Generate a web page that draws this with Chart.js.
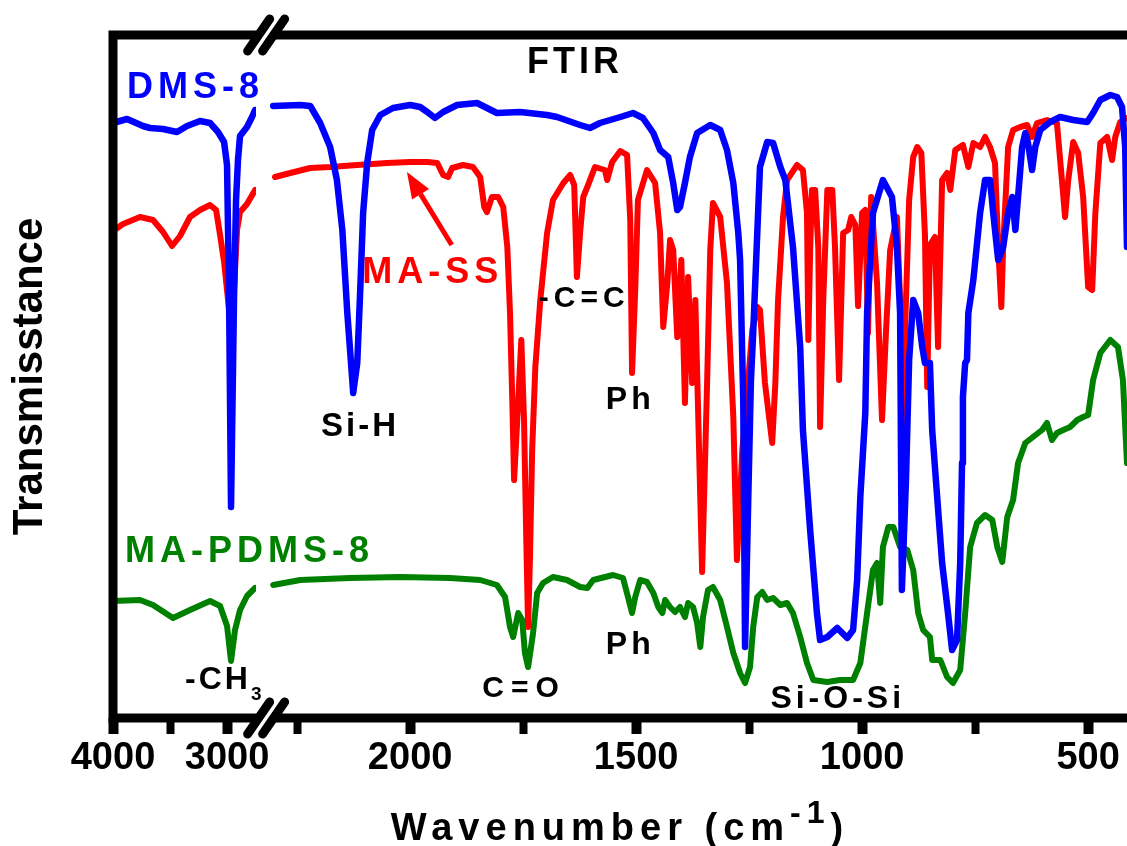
<!DOCTYPE html>
<html>
<head>
<meta charset="utf-8">
<title>FTIR</title>
<script src="https://cdn.jsdelivr.net/npm/chart.js@4.4.0/dist/chart.umd.min.js"></script>
<style>
html, body { margin: 0; padding: 0; background: #fff; }
canvas { display: block; }
</style>
</head>
<body>
<canvas id="chart" width="1127" height="846"></canvas>
<script>
// 刻度（波数 cm-1）
var leftTicks = [4000, 3500, 3000];
var leftLabels = [4000, 3000];
var rightTicks = [2250, 2000, 1750, 1500, 1250, 1000, 750, 500];
var rightLabels = [2000, 1500, 1000, 500];

// DMS-8 光谱
var dmsLeftWave = [4000, 3877, 3737, 3675, 3561, 3439, 3351, 3237, 3149, 3079, 3026, 3000, 2982, 2965, 2939, 2921, 2904, 2886, 2825, 2781, 2754];
var dmsLeftT = [59.5, 59.9, 59.2, 59.0, 58.9, 58.6, 59.2, 59.7, 59.5, 58.6, 57.6, 55.3, 41.8, 21.1, 41.8, 51.8, 55.8, 58.2, 59.1, 60.1, 60.8];
var dmsRightWave = [2303, 2243, 2221, 2199, 2177, 2162, 2150, 2139, 2128, 2126,
    2117, 2111, 2104, 2095, 2084, 2066, 2038, 2000, 1978, 1962,
    1945, 1927, 1896, 1852, 1830, 1808, 1757, 1697, 1675, 1624,
    1602, 1580, 1535, 1507, 1485, 1462, 1447, 1429, 1418, 1409,
    1403, 1392, 1381, 1365, 1336, 1314, 1299, 1285, 1274, 1270,
    1263, 1259, 1252, 1246, 1241, 1232, 1226, 1210, 1197, 1181,
    1170, 1153, 1137, 1131, 1115, 1100, 1093, 1077, 1055, 1033,
    1020, 1011, 1004, 993, 989, 976, 954, 934, 923, 916,
    912, 903, 896, 887, 876, 867, 861, 850, 845, 834,
    823, 810, 801, 790, 783, 779, 777, 772, 768, 765,
    754, 739, 728, 717, 710, 699, 688, 677, 668, 661,
    655, 646, 639, 633, 624, 617, 606, 584, 562, 533,
    502, 489, 473, 451, 436, 425, 418, 414];
var dmsRightT = [61.2, 61.3, 61.2, 59.5, 57.1, 53.8, 48.8, 40.5, 33.8, 32.5,
    35.5, 42.1, 50.5, 55.5, 58.8, 60.3, 61.0, 61.3, 61.1, 60.6,
    60.0, 60.6, 61.3, 61.5, 61.0, 60.5, 60.6, 60.3, 60.1, 59.3,
    59.0, 59.5, 60.1, 60.5, 60.0, 58.5, 56.8, 56.1, 53.5, 50.8,
    51.1, 53.5, 56.1, 58.5, 59.3, 58.8, 56.8, 53.5, 48.5, 45.8,
    31.8, 7.1, 21.8, 33.8, 38.5, 48.5, 55.1, 57.6, 57.5, 55.1,
    53.8, 47.1, 37.1, 28.8, 18.8, 10.5, 7.8, 8.1, 9.0, 8.0,
    8.8, 13.8, 22.1, 30.5, 40.5, 50.5, 53.8, 52.1, 47.1, 40.5,
    12.8, 23.8, 35.8, 41.8, 40.5, 37.1, 35.5, 35.5, 28.8, 22.1,
    15.5, 10.5, 6.8, 7.8, 15.5, 25.5, 32.1, 35.5, 35.8, 40.5,
    43.8, 50.5, 53.8, 53.8, 50.5, 45.8, 47.1, 50.5, 52.1, 48.8,
    52.1, 57.1, 58.5, 57.5, 54.8, 57.1, 58.8, 59.6, 60.1, 59.8,
    59.6, 60.5, 61.8, 62.3, 62.1, 61.1, 57.1, 47.1];

// MA-SS 光谱
var maLeftWave = [4000, 3912, 3763, 3649, 3561, 3482, 3412, 3325, 3237, 3149, 3096, 3061, 3026, 2991, 2965, 2939, 2912, 2886, 2825, 2754];
var maLeftT = [48.7, 49.4, 50.1, 49.8, 48.6, 47.2, 48.2, 50.1, 50.8, 51.3, 50.8, 48.3, 45.6, 41.8, 38.8, 42.8, 48.8, 50.6, 51.4, 52.8];
var maRightWave = [2299, 2265, 2221, 2177, 2117, 2051, 2000, 1962, 1940, 1927,
    1916, 1907, 1883, 1861, 1845, 1836, 1830, 1819, 1805, 1794,
    1785, 1779, 1774, 1770, 1763, 1754, 1748, 1743, 1739, 1735,
    1730, 1723, 1712, 1697, 1684, 1661, 1646, 1637, 1631, 1624,
    1617, 1608, 1591, 1569, 1564, 1553, 1535, 1520, 1513, 1509,
    1502, 1496, 1476, 1458, 1447, 1440, 1431, 1425, 1418, 1409,
    1400, 1392, 1385, 1376, 1369, 1354, 1343, 1336, 1330, 1314,
    1299, 1285, 1277, 1265, 1252, 1243, 1232, 1226, 1215, 1199,
    1192, 1186, 1175, 1166, 1144, 1131, 1122, 1119, 1115, 1111,
    1104, 1097, 1093, 1086, 1077, 1066, 1060, 1051, 1042, 1031,
    1024, 1015, 1009, 1000, 993, 987, 980, 967, 956, 947,
    938, 923, 916, 912, 905, 896, 887, 878, 869, 861,
    856, 850, 839, 832, 823, 812, 805, 794, 777, 765,
    754, 739, 728, 717, 706, 699, 692, 688, 677, 666,
    650, 635, 624, 613, 591, 569, 558, 551, 544, 533,
    522, 511, 500, 491, 484, 473, 458, 447, 440, 429,
    414];
var maRightT = [54.1, 54.5, 55.0, 55.1, 55.3, 55.5, 55.6, 55.6, 55.5, 54.3,
    54.1, 55.0, 55.3, 55.1, 54.1, 51.1, 50.6, 52.1, 52.1, 51.1,
    47.1, 40.5, 31.8, 23.8, 29.8, 37.8, 29.8, 17.8, 9.1, 15.8,
    26.8, 35.1, 41.8, 48.5, 51.8, 53.5, 54.3, 53.3, 44.1, 48.5,
    52.1, 53.1, 55.1, 54.8, 53.8, 55.6, 56.7, 56.3, 49.8, 34.5,
    42.8, 51.8, 54.8, 53.5, 48.5, 39.1, 43.5, 47.8, 46.8, 38.1,
    45.8, 31.5, 44.1, 33.5, 41.8, 14.6, 33.5, 46.8, 51.5, 50.1,
    43.5, 30.1, 15.8, 26.8, 33.8, 38.8, 41.1, 40.8, 33.5, 27.5,
    33.5, 41.8, 50.1, 53.8, 55.3, 54.8, 50.5, 37.8, 46.8, 52.8,
    52.8, 47.1, 29.1, 41.8, 52.8, 52.8, 47.1, 33.8, 48.5, 48.8,
    50.1, 49.3, 41.2, 50.5, 50.8, 38.5, 52.1, 43.5, 29.8, 38.8,
    46.8, 50.1, 41.8, 26.2, 38.8, 51.8, 56.1, 57.1, 56.5, 48.3,
    33.1, 47.3, 48.1, 37.1, 53.8, 54.5, 52.8, 56.8, 57.3, 55.1,
    57.5, 57.1, 58.1, 57.1, 55.5, 47.1, 41.1, 47.1, 57.1, 58.8,
    59.1, 59.3, 58.1, 59.5, 59.8, 59.5, 53.8, 50.1, 53.8, 57.6,
    56.5, 52.1, 43.1, 42.8, 50.5, 57.5, 58.1, 55.8, 58.1, 59.6,
    60.0];

// MA-PDMS-8 光谱
var pdmsLeftWave = [4000, 3763, 3649, 3474, 3325, 3149, 3061, 3000, 2965, 2930, 2886, 2825, 2754];
var pdmsLeftT = [11.7, 11.8, 11.3, 10.0, 10.8, 11.7, 11.2, 9.2, 5.7, 8.8, 10.8, 12.2, 13.0];
var pdmsRightWave = [2303, 2243, 2133, 2022, 1912, 1845, 1808, 1790, 1779, 1772,
    1761, 1752, 1746, 1739, 1728, 1719, 1706, 1684, 1653, 1624,
    1608, 1595, 1551, 1529, 1518, 1509, 1502, 1491, 1476, 1462,
    1451, 1442, 1436, 1425, 1414, 1403, 1392, 1385, 1374, 1365,
    1358, 1352, 1341, 1330, 1314, 1299, 1285, 1270, 1259, 1248,
    1241, 1232, 1221, 1210, 1197, 1181, 1166, 1153, 1137, 1122,
    1108, 1077, 1049, 1020, 1004, 989, 976, 967, 960, 954,
    942, 931, 916, 900, 887, 876, 865, 850, 845, 827,
    812, 799, 783, 772, 761, 746, 728, 712, 701, 690,
    679, 666, 655, 639, 622, 602, 591, 580, 569, 555,
    540, 524, 511, 500, 489, 473, 451, 434, 423, 414];
var pdmsRightT = [13.3, 13.8, 14.0, 14.1, 14.0, 13.8, 13.3, 12.1, 9.1, 8.1,
    10.5, 9.8, 6.5, 5.1, 8.5, 12.5, 13.5, 14.1, 13.8, 13.1,
    13.0, 13.8, 14.3, 14.0, 12.1, 10.5, 12.1, 13.8, 13.6, 12.5,
    11.1, 10.5, 11.8, 11.1, 10.6, 11.1, 10.1, 11.5, 11.1, 9.5,
    7.1, 10.1, 12.8, 13.1, 11.8, 9.1, 6.5, 4.5, 3.5, 5.1,
    9.1, 12.1, 12.6, 11.8, 12.0, 11.3, 11.5, 10.5, 8.1, 5.5,
    3.8, 3.6, 3.8, 3.8, 5.5, 10.5, 14.8, 15.5, 11.5, 17.1,
    19.1, 19.1, 17.1, 16.8, 14.8, 10.5, 8.8, 8.1, 5.8, 5.8,
    4.1, 3.5, 4.8, 10.5, 17.1, 19.5, 20.3, 19.8, 17.1, 15.6,
    20.1, 21.8, 25.5, 27.5, 28.1, 28.8, 29.5, 27.8, 28.5, 28.8,
    29.1, 29.8, 30.1, 30.3, 33.8, 36.5, 37.8, 37.1, 33.8, 25.5];

var FONT = "'Liberation Sans', Arial, Helvetica, sans-serif";
var BLUE = '#0000ff', RED = '#ff0000', GREEN = '#008000';
Chart.defaults.font.family = FONT;

// 标注文字（位置用数据坐标）
var notes = [
    {text: 'FTIR', axis: 'xR', x: 1635, y: 65.5, color: '#000', size: 36, gap: 4, align: 'center'},
    {text: 'DMS-8', axis: 'xL', x: 3877, y: 63.0, color: BLUE, size: 36, gap: 5, align: 'left'},
    {text: 'MA-SS', axis: 'xR', x: 2106, y: 44.5, color: RED, size: 36, gap: 5, align: 'left'},
    {text: 'MA-PDMS-8', axis: 'xL', x: 3895, y: 16.6, color: GREEN, size: 36, gap: 5, align: 'left'},
    {text: 'Si-H', axis: 'xR', x: 2111, y: 29.1, color: '#000', size: 33, gap: 3, align: 'center'},
    {text: '-C=C', axis: 'xR', x: 1615, y: 41.9, color: '#000', size: 30, gap: 5, align: 'center'},
    {text: 'Ph', axis: 'xR', x: 1513, y: 31.8, color: '#000', size: 32, gap: 4, align: 'center'},
    {text: 'Ph', axis: 'xR', x: 1513, y: 7.3, color: '#000', size: 32, gap: 4, align: 'center'},
    {text: 'C=O', axis: 'xR', x: 1748, y: 2.9, color: '#000', size: 30, gap: 7, align: 'center'},
    {text: 'Si-O-Si', axis: 'xR', x: 1054, y: 1.9, color: '#000', size: 32, gap: 4, align: 'center'},
    {text: '-CH', sub: '3', axis: 'xL', x: 3368, y: 3.8, color: '#000', size: 32, gap: 3, align: 'left'}
];
var arrow = {from: [1908, 47.3], to: [2007, 54.6]};

function toPoints(wave, vals) {
    var pts = [];
    for (var i = 0; i < wave.length; i++) {
        pts.push({x: wave[i], y: vals[i]});
    }
    return pts;
}

function lineSet(label, wave, vals, axis, color, width) {
    return {
        label: label,
        data: toPoints(wave, vals),
        xAxisID: axis,
        borderColor: color,
        borderWidth: width,
        pointRadius: 0,
        tension: 0,
        fill: false,
        borderJoinStyle: 'round',
        borderCapStyle: 'round'
    };
}

// 断轴：两段横轴叠放在底部
function wnAxis(min, max, weight, ticks, labels) {
    return {
        type: 'linear',
        position: 'bottom',
        stack: 'wn',
        stackWeight: weight,
        min: min,
        max: max,
        reverse: true,
        afterBuildTicks: function (scale) {
            scale.ticks = ticks.map(function (v) { return {value: v}; });
        },
        afterFit: function (scale) {
            scale.height = 128;
            scale.paddingLeft = 0;//不让标签撑开绘图区
            scale.paddingRight = 0;
        },
        border: {display: false},
        grid: {
            drawOnChartArea: false,
            drawTicks: true,
            tickLength: 16,
            tickColor: '#000',
            tickWidth: function (c) { return c.tick && labels.indexOf(c.tick.value) >= 0 ? 10 : 8; }
        },
        ticks: {
            autoSkip: false,
            maxRotation: 0,
            padding: 2,
            color: '#000',
            font: {size: 38, weight: 'bold'},
            callback: function (v) { return labels.indexOf(v) >= 0 ? String(v) : ''; }
        }
    };
}

// 边框与断轴符号
var framePlugin = {
    id: 'frame',
    afterDatasetsDraw: function (chart) {
        var ctx = chart.ctx, a = chart.chartArea;
        var xL = chart.scales.xL, xR = chart.scales.xR;
        var cut = (xL.getPixelForValue(dmsLeftWave[dmsLeftWave.length - 1]) + xR.getPixelForValue(dmsRightWave[0])) / 2 + 2;
        ctx.save();
        ctx.strokeStyle = '#000';
        ctx.lineWidth = 9;
        ctx.lineCap = 'butt';
        ctx.beginPath();
        ctx.moveTo(cut - 7.5, a.top);
        ctx.lineTo(a.left, a.top);
        ctx.lineTo(a.left, a.bottom);
        ctx.lineTo(cut - 7.5, a.bottom);
        ctx.moveTo(cut + 7.5, a.top);
        ctx.lineTo(a.right + 10, a.top);
        ctx.moveTo(cut + 7.5, a.bottom);
        ctx.lineTo(a.right + 10, a.bottom);
        ctx.stroke();
        ctx.lineCap = 'round';
        [a.top, a.bottom].forEach(function (yy) {
            [-7.5, 7.5].forEach(function (dx) {
                ctx.beginPath();
                ctx.moveTo(cut + dx - 11, yy + 16);
                ctx.lineTo(cut + dx + 11, yy - 16);
                ctx.stroke();
            });
        });
        ctx.restore();
    }
};

// 标注、箭头和横轴标题
var notePlugin = {
    id: 'notes',
    afterDraw: function (chart) {
        var ctx = chart.ctx, ys = chart.scales.y;
        ctx.save();
        ctx.textBaseline = 'middle';
        notes.forEach(function (n) {
            var px = chart.scales[n.axis].getPixelForValue(n.x);
            var py = ys.getPixelForValue(n.y);
            ctx.font = 'bold ' + n.size + 'px ' + FONT;
            ctx.letterSpacing = n.gap + 'px';
            ctx.fillStyle = n.color;
            ctx.textAlign = n.align;
            ctx.fillText(n.text, px, py);
            if (n.sub) {
                var w = ctx.measureText(n.text).width;
                ctx.font = 'bold ' + Math.round(n.size * 0.6) + 'px ' + FONT;
                ctx.textAlign = 'left';
                ctx.fillText(n.sub, px + w, py + n.size * 0.45);
            }
        });

        // 箭头
        var xR = chart.scales.xR;
        var tx = xR.getPixelForValue(arrow.to[0]), ty = ys.getPixelForValue(arrow.to[1]);
        var fx = xR.getPixelForValue(arrow.from[0]), fy = ys.getPixelForValue(arrow.from[1]);
        var ang = Math.atan2(ty - fy, tx - fx);
        var bx = tx - 26 * Math.cos(ang), by = ty - 26 * Math.sin(ang);
        ctx.strokeStyle = RED;
        ctx.fillStyle = RED;
        ctx.lineWidth = 5;
        ctx.beginPath();
        ctx.moveTo(fx, fy);
        ctx.lineTo(bx, by);
        ctx.stroke();
        ctx.beginPath();
        ctx.moveTo(tx, ty);
        ctx.lineTo(bx + 10 * Math.sin(ang), by - 10 * Math.cos(ang));
        ctx.lineTo(bx - 10 * Math.sin(ang), by + 10 * Math.cos(ang));
        ctx.closePath();
        ctx.fill();

        // 横轴标题（带上标）
        var a = chart.chartArea;
        var parts = [
            {t: 'Wavenumber (cm', size: 38, dy: 0},
            {t: '-1', size: 32, dy: -17},
            {t: ')', size: 38, dy: 0}
        ];
        ctx.letterSpacing = '6px';
        ctx.textAlign = 'left';
        ctx.textBaseline = 'alphabetic';
        ctx.fillStyle = '#000';
        var total = 0;
        parts.forEach(function (p) {
            ctx.font = 'bold ' + p.size + 'px ' + FONT;
            p.w = ctx.measureText(p.t).width;
            total += p.w;
        });
        var x0 = (a.left + a.right) / 2 - total / 2;
        var base = chart.height - 6;
        parts.forEach(function (p) {
            ctx.font = 'bold ' + p.size + 'px ' + FONT;
            ctx.fillText(p.t, x0, base + p.dy);
            x0 += p.w;
        });
        ctx.restore();
    }
};

var chart = new Chart(document.getElementById('chart'), {
    type: 'line',
    data: {
        datasets: [
            lineSet('DMS-8', dmsLeftWave, dmsLeftT, 'xL', BLUE, 6.5),
            lineSet('DMS-8', dmsRightWave, dmsRightT, 'xR', BLUE, 6.5),
            lineSet('MA-SS', maLeftWave, maLeftT, 'xL', RED, 6),
            lineSet('MA-SS', maRightWave, maRightT, 'xR', RED, 6),
            lineSet('MA-PDMS-8', pdmsLeftWave, pdmsLeftT, 'xL', GREEN, 6),
            lineSet('MA-PDMS-8', pdmsRightWave, pdmsRightT, 'xR', GREEN, 6)
        ]
    },
    options: {
        responsive: false,
        animation: false,
        events: [],
        layout: {padding: {top: 35, left: 0, right: 0, bottom: 0}},
        plugins: {legend: {display: false}, tooltip: {enabled: false}},
        scales: {
            xL: wnAxis(2746, 4000, 143, leftTicks, leftLabels),
            xR: wnAxis(414, 2341, 871, rightTicks, rightLabels),
            y: {
                type: 'linear',
                position: 'left',
                min: 0,
                max: 68.3,
                afterFit: function (scale) { scale.width = 113; },
                border: {display: false},
                grid: {display: false, drawTicks: false},
                ticks: {display: false},
                title: {
                    display: true,
                    text: 'Transmisstance',
                    color: '#000',
                    font: {size: 42, weight: 'bold', lineHeight: 1},
                    padding: {top: 9, bottom: 0}
                }
            }
        }
    },
    plugins: [framePlugin, notePlugin]
});
</script>
</body>
</html>
